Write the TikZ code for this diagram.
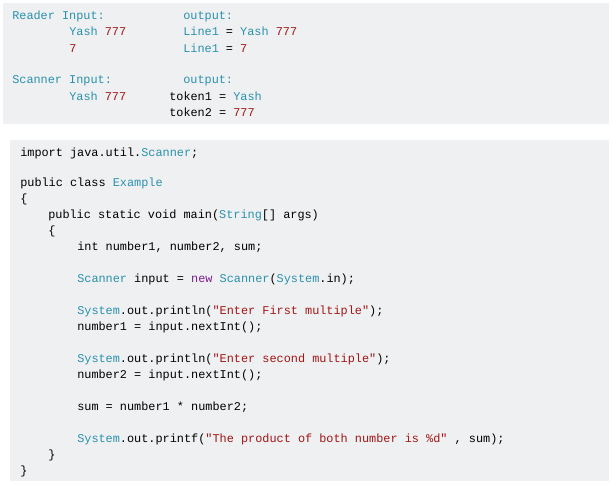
\documentclass[tikz,border=0pt]{standalone}
\usepackage{fontspec}
\setmonofont{Liberation Mono}
\definecolor{bgc}{HTML}{EFF0F1}
\definecolor{tl}{HTML}{2B91AF}
\definecolor{dr}{HTML}{A31515}
\definecolor{pu}{HTML}{7A1F8F}
\newcommand{\Tq}[1]{\textcolor{tl}{#1}}
\newcommand{\Rq}[1]{\textcolor{dr}{#1}}
\newcommand{\Pq}[1]{\textcolor{pu}{#1}}
\begin{document}
\begin{tikzpicture}[x=0.75pt,y=-0.75pt,
  t/.style={anchor=base west,inner sep=0pt,font=\ttfamily\fontsize{8.9}{10}\selectfont}]
\useasboundingbox (0,0) rectangle (616,485);
\fill[bgc] (3,3) rectangle (609,124);
\fill[bgc] (10,140) rectangle (609,481);
% top block
\node[t] (a1) at (12,20) {\Tq{Reader Input:}};
\node[t] (a2) at (183,20) {\Tq{output:}};
\node[t] (a3) at (69,36) {\Tq{Yash} \Rq{777}};
\node[t] (a4) at (183,36) {\Tq{Line1} = \Tq{Yash} \Rq{777}};
\node[t] (a5) at (69,52) {\Rq{7}};
\node[t] (a6) at (183,52) {\Tq{Line1} = \Rq{7}};
\node[t] (a7) at (12,84) {\Tq{Scanner Input:}};
\node[t] (a8) at (183,84) {\Tq{output:}};
\node[t] (a9) at (69,100) {\Tq{Yash} \Rq{777}};
\node[t] (a10) at (169,100) {token1 = \Tq{Yash}};
\node[t] (a11) at (169,116) {token2 = \Rq{777}};
% code
\node[t] (c1) at (20,156) {import java.util.\Tq{Scanner};};
\node[t] (c2) at (20,186) {public class \Tq{Example}};
\node[t] (c3) at (20,202) {\{};
\node[t] (c4) at (48,218) {public static void main(\Tq{String}[] args)};
\node[t] (c5) at (48,234) {\{};
\node[t] (c6) at (77,250) {int number1, number2, sum;};
\node[t] (c7) at (77,282) {\Tq{Scanner} input = \Pq{new} \Tq{Scanner}(\Tq{System}.in);};
\node[t] (c8) at (77,314) {\Tq{System}.out.println(\Rq{"Enter First multiple"});};
\node[t] (c9) at (77,330) {number1 = input.nextInt();};
\node[t] (c10) at (77,362) {\Tq{System}.out.println(\Rq{"Enter second multiple"});};
\node[t] (c11) at (77,378) {number2 = input.nextInt();};
\node[t] (c12) at (77,410) {sum = number1 * number2;};
\node[t] (c13) at (77,442) {\Tq{System}.out.printf(\Rq{"The product of both number is \%d"} , sum);};
\node[t] (c14) at (48,458) {\}};
\node[t] (c15) at (20,474) {\}};
\end{tikzpicture}
\end{document}
